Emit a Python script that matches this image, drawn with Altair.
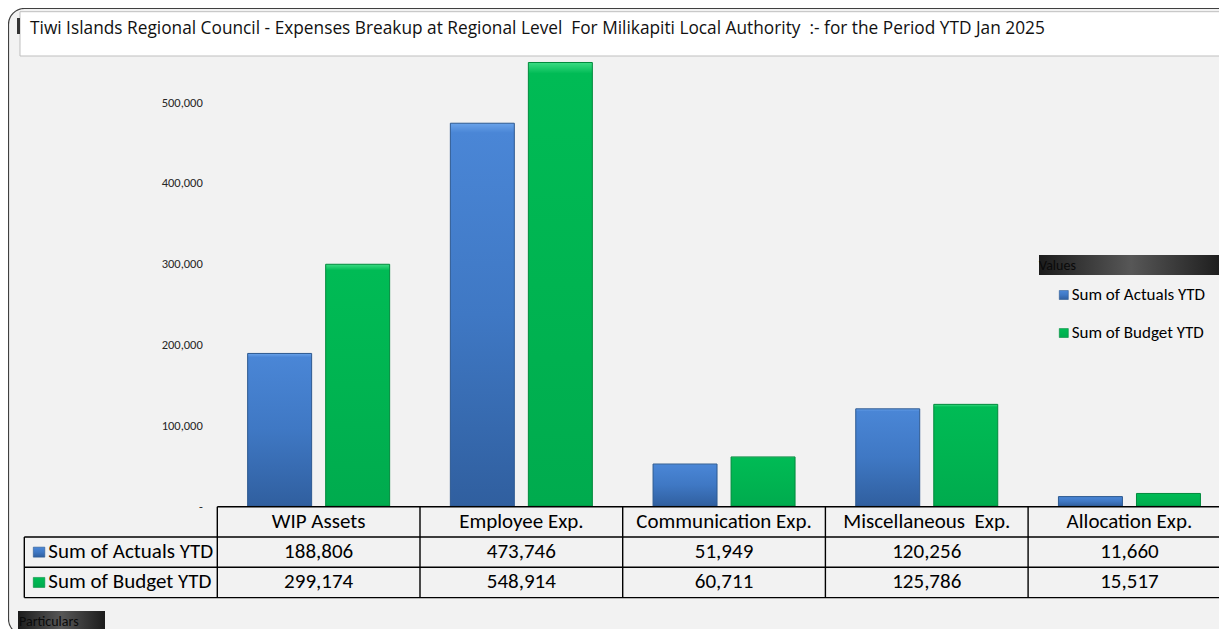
import altair as alt
import pandas as pd

# ---------------- data ----------------
categories = ["WIP Assets", "Employee Exp.", "Communication Exp.", "Miscellaneous  Exp.", "Allocation Exp."]
series = ["Sum of Actuals YTD", "Sum of Budget YTD"]
actuals = [188806, 473746, 51949, 120256, 11660]
budget = [299174, 548914, 60711, 125786, 15517]
y_ticks = [0, 100000, 200000, 300000, 400000, 500000]
title_text = "Tiwi Islands Regional Council - Expenses Breakup at Regional Level   For Milikapiti Local Authority  :- for the Period YTD Jan 2025"
legend_title = "Values"
axis_label = "Particulars"

FONT = "Carlito, Calibri, Lato, sans-serif"
TITLE_FONT = "Open Sans"


def keep_spaces(s):
    # keep runs of spaces visible in SVG text
    return s.replace("  ", "\u00a0 ")


df = pd.DataFrame({
    "category": categories * 2,
    "series": [series[0]] * len(categories) + [series[1]] * len(categories),
    "value": actuals + budget,
})
cat_df = pd.DataFrame({"category": categories, "shown": [keep_spaces(c) for c in categories]})
one = pd.DataFrame({"k": [0]})


# ---------------- styles ----------------
def grad(stops, horizontal=False):
    if horizontal:
        return alt.Gradient(gradient="linear", x1=0, x2=1, y1=0, y2=0,
                            stops=[alt.GradientStop(color=c, offset=o) for c, o in stops])
    return alt.Gradient(gradient="linear", x1=0, x2=0, y1=0, y2=1,
                        stops=[alt.GradientStop(color=c, offset=o) for c, o in stops])


blue_fill = grad([("#6aa3ea", 0), ("#4a86d6", 0.025), ("#3f78c4", 0.5), ("#305f9f", 1)])
green_fill = grad([("#3ddc84", 0), ("#00bb55", 0.025), ("#00b451", 0.5), ("#00ab4e", 1)])
fills = [blue_fill, green_fill]
strokes = ["#2d5990", "#008a3c"]
dark_box = grad([("#1c1c1c", 0), ("#575757", 0.5), ("#1c1c1c", 1)], horizontal=True)

BAND_W = 202.7
x_scale = alt.Scale(domain=categories, range=[0, BAND_W * len(categories)], paddingInner=0, paddingOuter=0)
x_enc = alt.X("category:N", scale=x_scale, axis=None)
xo_enc = alt.XOffset("series:N", scale=alt.Scale(domain=series, paddingInner=0.18, paddingOuter=0.389))
y_enc = alt.Y(
    "value:Q",
    scale=alt.Scale(domain=[0, 552000], nice=False, zero=True),
    axis=alt.Axis(values=y_ticks, labelExpr="datum.value == 0 ? '-' : format(datum.value, ',')",
                  domain=False, ticks=False, grid=False, labelFont=FONT, labelFontSize=12.5,
                  labelColor="#262626", labelPadding=15, title=None, zindex=2),
)


def box(x, x2, y, y2, **kw):
    return alt.Chart(one).mark_rect(**kw).encode(
        x=alt.value(x), x2=alt.value(x2), y=alt.value(y), y2=alt.value(y2))


def rule(x, x2, y, y2, **kw):
    return alt.Chart(one).mark_rule(color="#000000", strokeWidth=1.4, **kw).encode(
        x=alt.value(x), x2=alt.value(x2), y=alt.value(y), y2=alt.value(y2))


def label(txt, x, y, size, align="left", color="#000000", font=FONT):
    return alt.Chart(one).mark_text(text=txt, align=align, baseline="middle", font=font,
                                    fontSize=size, color=color).encode(x=alt.value(x), y=alt.value(y))


layers = []
# background & frame
layers.append(box(-208.8, 1030, -51.5, 575, fill="#f2f2f2", stroke="#404040", strokeWidth=1.2, cornerRadius=16))
layers.append(box(-197.3, 1030, -48.3, -4, fill="#ffffff", stroke="#bfbfbf", strokeWidth=1))
layers.append(box(-200.3, -197.3, -42, -26, fill="#333333"))
layers.append(label(keep_spaces(title_text), -187.3, -31.5, 17.3, font=TITLE_FONT, color="#111111"))

# bars
for i, s in enumerate(series):
    layers.append(
        alt.Chart(df).transform_filter(alt.datum.series == s)
        .mark_bar(fill=fills[i], stroke=strokes[i], strokeWidth=1)
        .encode(x=x_enc, xOffset=xo_enc, y=y_enc)
    )

# data table
ROW_TOP = 446.7
ROW_H = 30.3
table_left = -193
layers.append(rule(0, 1030, ROW_TOP, ROW_TOP))
for r in range(1, 4):
    yy = ROW_TOP + ROW_H * r
    layers.append(rule(table_left, 1030, yy, yy))
layers.append(rule(table_left, table_left, ROW_TOP + ROW_H, ROW_TOP + 3 * ROW_H))
for c in range(len(categories)):
    xx = BAND_W * c
    layers.append(rule(xx, xx, ROW_TOP, ROW_TOP + 3 * ROW_H))

layers.append(
    alt.Chart(cat_df).mark_text(font=FONT, fontSize=21, color="#000000", baseline="middle")
    .encode(x=x_enc, y=alt.value(ROW_TOP + ROW_H / 2), text="shown:N")
)
for i, s in enumerate(series):
    yc = ROW_TOP + ROW_H * (i + 1.5)
    layers.append(
        alt.Chart(df).transform_filter(alt.datum.series == s)
        .mark_text(font=FONT, fontSize=21, color="#000000", baseline="middle")
        .encode(x=x_enc, y=alt.value(yc), text=alt.Text("value:Q", format=","))
    )
    layers.append(box(-184, -172.5, yc - 5, yc + 5, fill=fills[i], stroke=strokes[i], strokeWidth=0.6))
    layers.append(label(s, -169, yc, 21))

# legend
layers.append(box(821.7, 1005.7, 195, 215, fill=dark_box))
layers.append(label(legend_title, 821.7, 205.5, 14, color="#0a0a0a"))
for i, s in enumerate(series):
    yc = 235 + 38 * i
    layers.append(box(842, 851, yc - 4.5, yc + 4.5, fill=fills[i], stroke=strokes[i], strokeWidth=0.6))
    layers.append(label(s, 854.4, yc, 17))

# axis caption box
layers.append(box(-199.3, -112.3, 551, 571, fill=dark_box))
layers.append(label(axis_label, -198.3, 561.5, 14, color="#0a0a0a"))

chart = (
    alt.layer(*layers)
    .properties(
        width=1001.7,
        height=446,
        padding={"left": 209.3, "top": 52, "right": 0, "bottom": 123},
        autosize=alt.AutoSizeParams(type="none"),
        background="#ffffff",
    )
    .configure_view(strokeWidth=0)
)

chart.save("out.html", embed_options={"renderer": "svg", "actions": False})
